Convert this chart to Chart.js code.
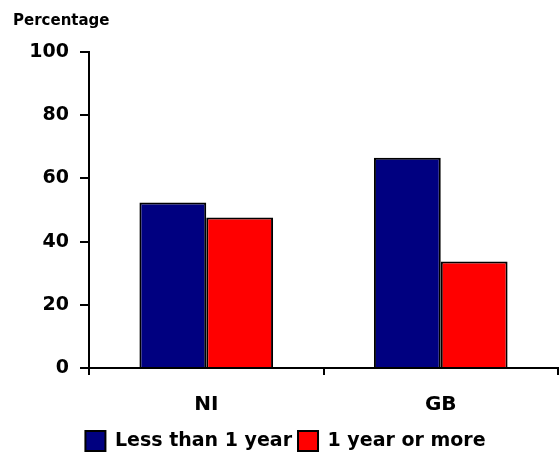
<!DOCTYPE html>
<html>
<head>
<meta charset="utf-8">
<script src="https://cdn.jsdelivr.net/npm/chart.js@4"></script>
<style>
  html, body { margin: 0; padding: 0; background: #fff; }
  #wrap { width: 559px; height: 455px; }
</style>
</head>
<body>
<div id="wrap"><canvas id="myChart" width="559" height="455"></canvas></div>
<script>
const categories = ['NI', 'GB'];
const lessThanOneYear = [52.4, 66.5];
const oneYearOrMore = [47.6, 33.7];
const yTicks = [0, 20, 40, 60, 80, 100];

const FONT = 'DejaVu Sans';

const ctx = document.getElementById('myChart');

const chart = new Chart(ctx, {
  type: 'bar',
  data: {
    labels: categories,
    datasets: [
      {
        label: 'Less than 1 year',
        data: lessThanOneYear,
        backgroundColor: '#000080',
        borderColor: '#000000',
        borderWidth: 2,
      },
      {
        label: '1 year or more',
        data: oneYearOrMore,
        backgroundColor: '#ff0000',
        borderColor: '#000000',
        borderWidth: 2,
      },
    ],
  },
  options: {
    responsive: false,
    animation: false,
    datasets: {
      bar: { categoryPercentage: 0.57, barPercentage: 1.0 },
    },
    layout: { padding: { left: 13, right: 1, top: 0, bottom: -6 } },
    plugins: {
      title: {
        display: true,
        text: 'Percentage',
        align: 'start',
        color: '#000',
        font: { family: FONT, size: 15, weight: 'bold' },
        padding: { top: 12, bottom: 22 },
      },
      legend: {
        position: 'bottom',
        labels: {
          color: '#000',
          font: { family: FONT, size: 19, weight: 'bold' },
          boxWidth: 20,
          boxHeight: 20,
          padding: 6,
        },
      },
      tooltip: { enabled: false },
    },
    scales: {
      x: {
        afterFit: (scale) => { scale.height = 57; },
        grid: {
          drawOnChartArea: false,
          offset: true,
          color: '#000',
          lineWidth: 2,
          tickLength: 7,
        },
        border: { color: '#000', width: 2 },
        ticks: {
          color: '#000',
          font: { family: FONT, size: 20, weight: 'bold' },
          padding: 18,
        },
      },
      y: {
        min: 0,
        max: 100,
        afterBuildTicks: (scale) => {
          scale.ticks = yTicks.map(v => ({ value: v }));
        },
        afterFit: (scale) => { scale.width = 76; },
        grid: {
          drawOnChartArea: false,
          color: '#000',
          lineWidth: 2,
          tickLength: 9,
        },
        border: { color: '#000', width: 2 },
        ticks: {
          color: '#000',
          font: { family: FONT, size: 19, weight: 'bold' },
          padding: 11,
        },
      },
    },
  },
});
</script>
</body>
</html>
